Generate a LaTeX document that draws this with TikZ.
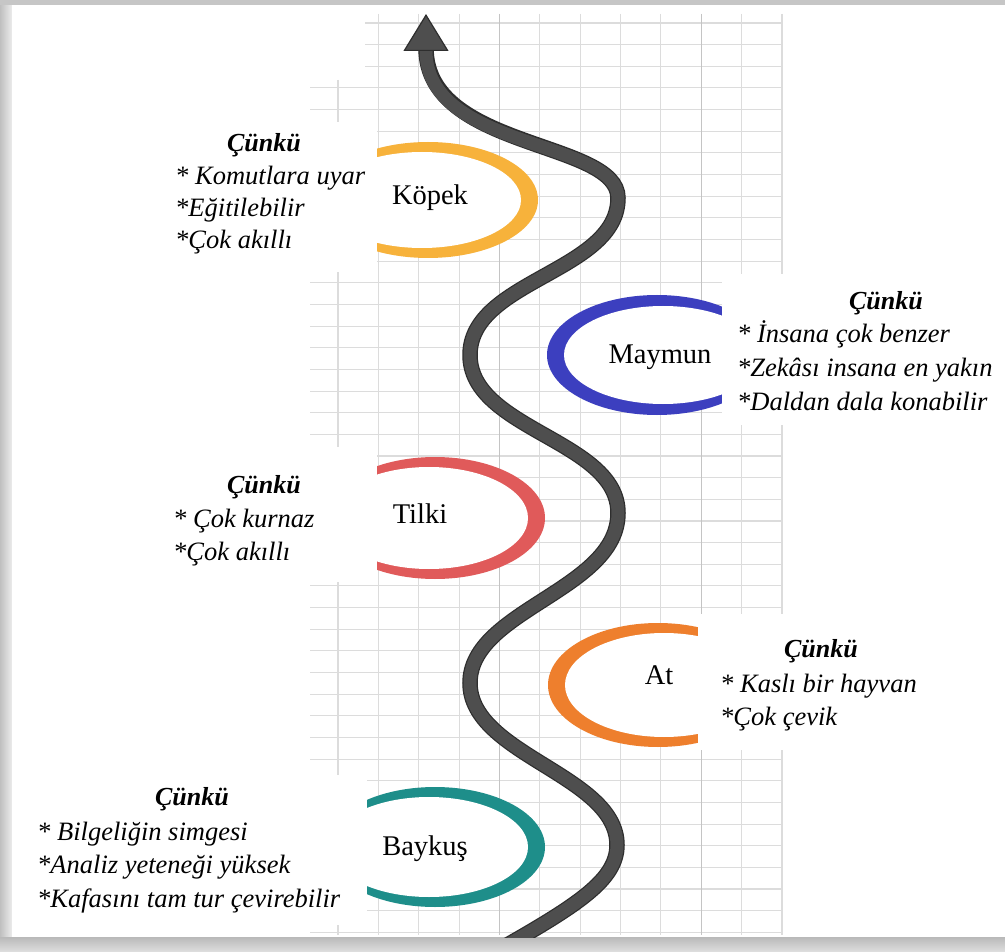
\documentclass[tikz,border=0pt]{standalone}
\usepackage{fontspec}
\setmainfont{LiberationSerif}[Extension=.ttf, UprightFont=*-Regular, BoldFont=*-Bold, ItalicFont=*-Italic, BoldItalicFont=*-BoldItalic]
\usetikzlibrary{arrows.meta}
\definecolor{ckopek}{HTML}{F7B23B}
\definecolor{cmaymun}{HTML}{3C3FBF}
\definecolor{ctilki}{HTML}{E05A5A}
\definecolor{cat}{HTML}{EE7F2D}
\definecolor{cbaykus}{HTML}{1E8E8A}
\definecolor{gridgray}{HTML}{DCDCDC}
\definecolor{gridstrong}{HTML}{C4C4C4}
\definecolor{snakegray}{HTML}{4E4E4E}
\definecolor{snakedark}{HTML}{2E2E2E}
\definecolor{framegray}{HTML}{CFCFCF}
\begin{document}
\begin{tikzpicture}[x=1pt,y=-1pt,
  gridline/.style={draw=gridgray, line width=1.1pt},
  gridbold/.style={draw=gridstrong, line width=1.2pt},
  cover/.style={fill=white},
  why/.style={anchor=base, inner sep=0pt, font=\fontsize{26}{30}\selectfont\bfseries\itshape},
  item/.style={anchor=base west, inner sep=0pt, font=\fontsize{26.5}{30}\selectfont\itshape},
  lbl/.style={anchor=base, inner sep=0pt, font=\fontsize{28.5}{32}\selectfont},
  snake/.style={line width=13pt, draw=snakegray, line cap=butt,
    preaction={draw=snakedark, line width=15.5pt, arrows=-, shorten >=34pt},
    -{Triangle[length=37pt,width=45pt,line width=1.2pt,fill=snakegray,color=snakedark]}}
]
\useasboundingbox (0,0) rectangle (1005,952);
% frame
\fill[framegray] (0,0) rectangle (1005,952);
\shade[left color=gray!50, right color=gray!15] (0,0) rectangle (12,952);
\shade[top color=gray!55, bottom color=gray!25] (0,937) rectangle (1005,952);
\fill[gray!45] (0,0) rectangle (1005,5);
\fill[white] (12,5) rectangle (1005,937);
\begin{scope}
\clip (12,5) rectangle (1005,937);
% grid
\foreach \k in {1,...,11} {\draw[gridline] ({338+40.36*\k},14) -- ({338+40.36*\k},935);}
\draw[gridline] (338,80) -- (338,935);
\foreach \k in {0,1,2} {\draw[gridline] (365,{23+21.65*\k}) -- (782,{23+21.65*\k});}
\foreach \k in {3,...,42} {\draw[gridline] (310,{23+21.65*\k}) -- (782,{23+21.65*\k});}
\draw[gridbold] (499.4,14) -- (499.4,935);
\draw[gridbold] (701.2,14) -- (701.2,935);
% rings
\fill[ckopek] (428,200) ellipse [x radius=110pt, y radius=58pt];
\fill[white] (422,200) ellipse [x radius=99pt, y radius=48pt];
\fill[ctilki] (435,518) ellipse [x radius=110pt, y radius=61pt];
\fill[white] (429,518) ellipse [x radius=99pt, y radius=51pt];
\fill[cbaykus] (435,847) ellipse [x radius=110pt, y radius=60pt];
\fill[white] (429,847) ellipse [x radius=99pt, y radius=50pt];
\fill[cmaymun] (657,355) ellipse [x radius=110pt, y radius=60pt];
\fill[white] (663,355) ellipse [x radius=99pt, y radius=49pt];
\fill[cat] (658,685) ellipse [x radius=110pt, y radius=62pt];
\fill[white] (664,685) ellipse [x radius=99pt, y radius=52pt];
% text covers
\fill[cover] (150,122) rectangle (377,272);
\fill[cover] (150,447) rectangle (377,582);
\fill[cover] (20,775) rectangle (367,925);
\fill[cover] (722,274) rectangle (1005,425);
\fill[cover] (698,614) rectangle (1005,750);
% labels
\node[lbl] (kopek) at (430,205) {Köpek};
\node[lbl] (maymun) at (660,363) {Maymun};
\node[lbl] (tilki) at (420,523) {Tilki};
\node[lbl] (at) at (659,684) {At};
\node[lbl] (baykus) at (425,855) {Baykuş};
% reasons
\node[why] (kw) at (264,152) {Çünkü};
\node[item] (k1) at (175,185) {* Komutlara uyar};
\node[item] (k2) at (175,217) {*Eğitilebilir};
\node[item] (k3) at (175,249) {*Çok akıllı};
\node[why] (mw) at (886,310) {Çünkü};
\node[item] (m1) at (737,343) {* İnsana çok benzer};
\node[item] (m2) at (737,377) {*Zekâsı insana en yakın};
\node[item] (m3) at (737,410) {*Daldan dala konabilir};
\node[why] (tw) at (264,493) {Çünkü};
\node[item] (t1) at (173,527) {* Çok kurnaz};
\node[item] (t2) at (173,560) {*Çok akıllı};
\node[why] (aw) at (821,657) {Çünkü};
\node[item] (a1) at (720,692) {* Kaslı bir hayvan};
\node[item] (a2) at (720,725) {*Çok çevik};
\node[why] (bw) at (192,805) {Çünkü};
\node[item] (b1) at (37,840) {* Bilgeliğin simgesi};
\node[item] (b2) at (37,873) {*Analiz yeteneği yüksek};
\node[item] (b3) at (37,907) {*Kafasını tam tur çevirebilir};
% snake arrow
\coordinate (s0) at (495,952);
\coordinate (r3) at (617,845);
\coordinate (l2) at (470,683);
\coordinate (r2) at (618,513);
\coordinate (l1) at (470,355);
\coordinate (r1) at (618,198);
\coordinate (tip) at (426,14);
\draw[snake] (s0) .. controls (578,905) and (617,880) .. (r3)
  .. controls (617,775) and (470,755) .. (l2)
  .. controls (470,610) and (618,590) .. (r2)
  .. controls (618,440) and (470,430) .. (l1)
  .. controls (470,280) and (618,272) .. (r1)
  .. controls (618,140) and (426,150) .. (tip);
\end{scope}
\end{tikzpicture}
\end{document}
